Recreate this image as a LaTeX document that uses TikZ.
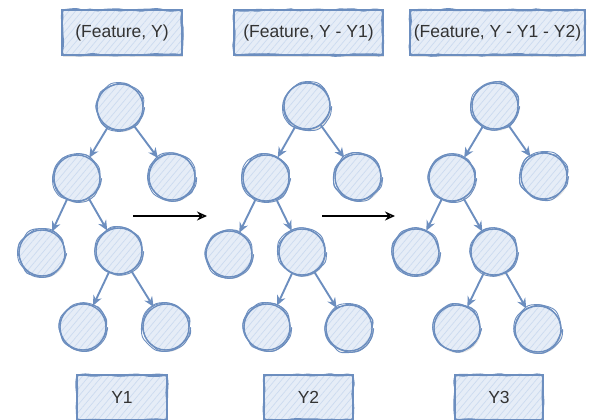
\documentclass[tikz,border=0pt]{standalone}
\usepackage{fontspec}
\setmainfont{Liberation Sans}
\usetikzlibrary{arrows.meta,decorations.pathmorphing,patterns.meta,shadows}
\definecolor{strk}{HTML}{6C8EBF}
\definecolor{fillc}{HTML}{E6EDF7}
\definecolor{hatch}{HTML}{CCDBF0}
\definecolor{txt}{HTML}{333333}
\pgfmathsetseed{7}
\tikzset{
 sketch/.style={
   postaction={draw=strk, line width=1pt, decorate, decoration={random steps,segment length=7pt,amplitude=1.6pt}, rounded corners=3pt},
   postaction={draw=strk, line width=0.9pt, decorate, decoration={random steps,segment length=9pt,amplitude=1.4pt}, rounded corners=3pt}},
 hatched/.style={preaction={fill=fillc}, pattern={Lines[angle=50,distance=5pt,line width=0.7pt]}, pattern color=hatch},
 shad/.style={drop shadow={fill=black, opacity=0.10, shadow xshift=1pt, shadow yshift=-2pt}},
 tnode/.style={circle, minimum size=46pt, inner sep=0pt, draw=strk, line width=1.4pt, shad, hatched, sketch},
 lbox/.style={rectangle, draw=strk, line width=1.4pt, shad, hatched, sketch, minimum height=45pt, inner sep=2pt, font=\fontsize{17.5}{20}\selectfont, text=txt},
 edge/.style={draw=strk, line width=1.9pt, -{Stealth[length=10pt,width=9pt]}},
 flow/.style={draw=black, line width=1.5pt, -{Stealth[open,length=10pt,width=9pt,line width=1.5pt]}}
}
\begin{document}
\begin{tikzpicture}[x=1pt,y=-1pt]
\useasboundingbox (0,0) rectangle (589,420);
% top boxes
\node[lbox, minimum width=120pt] (t1) at (122,32.5) {(Feature, Y)};
\node[lbox, minimum width=149pt] (t2) at (308.5,32.5) {(Feature, Y - Y1)};
\node[lbox, minimum width=175pt] (t3) at (497.5,32.5) {(Feature, Y - Y1 - Y2)};
% bottom boxes
\node[lbox, minimum width=90pt] (y1) at (122,397.5) {Y1};
\node[lbox, minimum width=89pt] (y2) at (308.5,397.5) {Y2};
\node[lbox, minimum width=88pt] (y3) at (499,397.5) {Y3};
% tree 1
\node[tnode] (r1) at (120,107) {};
\node[tnode] (a1) at (77,178) {};
\node[tnode] (b1) at (172,177) {};
\node[tnode] (c1) at (42,253) {};
\node[tnode] (d1) at (119,251) {};
\node[tnode] (e1) at (83,327) {};
\node[tnode] (f1) at (166,327) {};
% tree 2
\node[tnode] (r2) at (307,106) {};
\node[tnode] (a2) at (266,178) {};
\node[tnode] (b2) at (358,177) {};
\node[tnode] (c2) at (229,254) {};
\node[tnode] (d2) at (302,252) {};
\node[tnode] (e2) at (267,327) {};
\node[tnode] (f2) at (349,328) {};
% tree 3
\node[tnode] (r3) at (495,106) {};
\node[tnode] (a3) at (452,178) {};
\node[tnode] (b3) at (544,176) {};
\node[tnode] (c3) at (416,252) {};
\node[tnode] (d3) at (494,252) {};
\node[tnode] (e3) at (457,328) {};
\node[tnode] (f3) at (538,329) {};
% edges
\foreach \t in {1,2,3}{
  \draw[edge] (r\t) -- (a\t);
  \draw[edge] (r\t) -- (b\t);
  \draw[edge] (a\t) -- (c\t);
  \draw[edge] (a\t) -- (d\t);
  \draw[edge] (d\t) -- (e\t);
  \draw[edge] (d\t) -- (f\t);
}
% flow arrows
\coordinate (p1s) at (133,216);
\coordinate (p1e) at (207,216);
\coordinate (p2s) at (322,216);
\coordinate (p2e) at (395,216);
\draw[flow] (p1s) -- (p1e);
\draw[flow] (p2s) -- (p2e);
\end{tikzpicture}
\end{document}
